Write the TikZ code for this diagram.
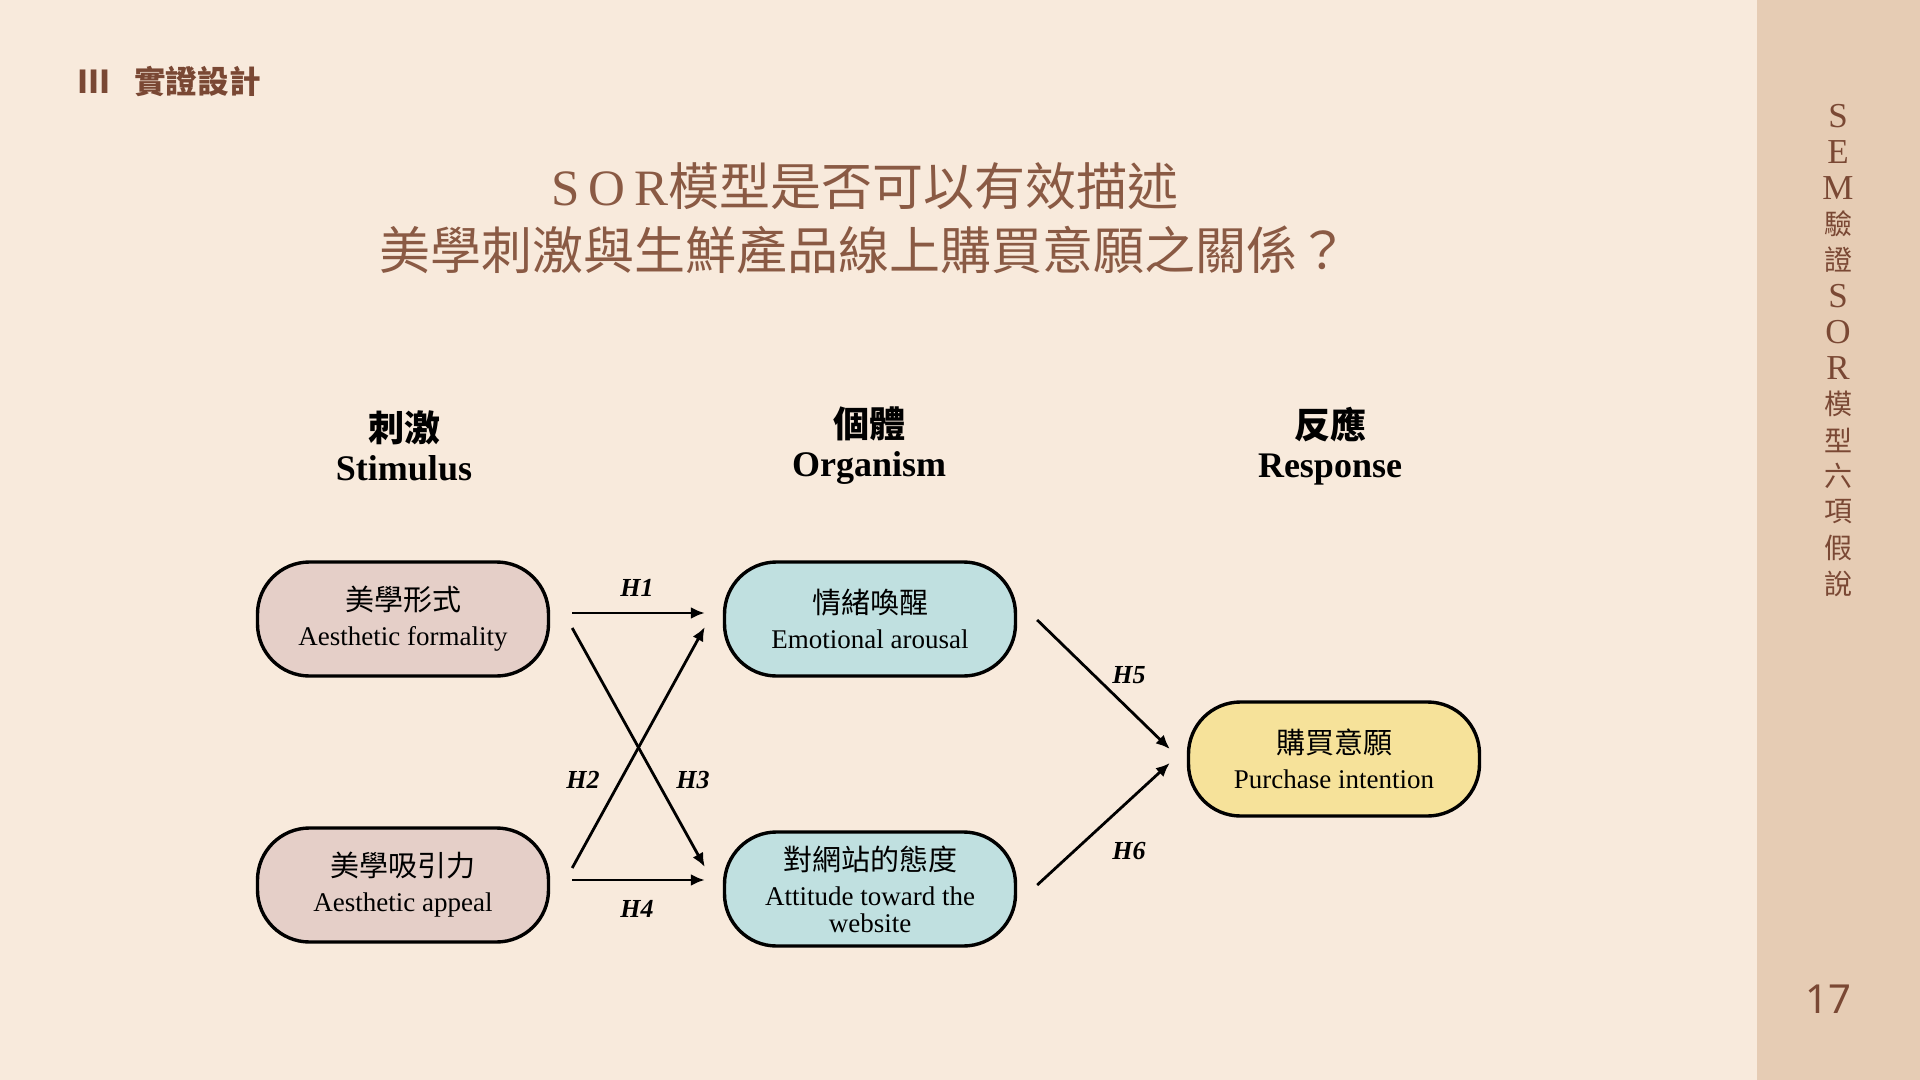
\documentclass[tikz,border=0pt]{standalone}
\usepackage{fontspec}
\setmainfont{Liberation Serif}
\newfontfamily\cjk{Noto Sans CJK TC}
\newfontfamily\numfont{Noto Sans}
\usetikzlibrary{calc, positioning}
\usetikzlibrary{arrows.meta}

\definecolor{bgcream}{RGB}{248,234,220}
\definecolor{sidetan}{RGB}{230,204,180}
\definecolor{brownhead}{RGB}{122,72,52}
\definecolor{browntitle}{RGB}{138,90,68}
\definecolor{pinkbox}{RGB}{229,207,200}
\definecolor{bluebox}{RGB}{192,224,224}
\definecolor{yellowbox}{RGB}{246,226,154}

\tikzset{
  varbox/.style={draw=black, line width=1.7pt, rounded corners=26pt,
    minimum width=145.5pt, minimum height=57pt, inner sep=0pt, align=center,
    font=\fontsize{13.5}{17.5}\selectfont},
  hyp/.style={-{Latex[length=7pt,width=6pt]}, line width=1.4pt},
  hlab/.style={font=\fontsize{13}{13}\selectfont\bfseries\itshape},
  colhead/.style={align=center, font=\fontsize{18}{19.5}\selectfont\bfseries},
  sidech/.style={text=brownhead, inner sep=0pt},
}
\newcommand{\boxcjk}[1]{{\cjk\fontsize{14.5}{17.5}\selectfont #1}}

\begin{document}
\begin{tikzpicture}[x=0.5pt, y=-0.5pt]
% page and side panel
\useasboundingbox (0,0) rectangle (1920,1080);
\fill[bgcream] (0,0) rectangle (1920,1080);
\fill[sidetan] (1757,0) rectangle (1920,1080);

% header and title
\node[anchor=west, text=brownhead] (sec) at (70,81)
  {\cjk\bfseries\fontsize{15.8}{16}\selectfont III\hspace{12pt}實證設計};
\node[text=browntitle] (title1) at (865,186)
  {\fontsize{25.5}{26}\selectfont S\,O\,R{\cjk 模型是否可以有效描述}};
\node[text=browntitle] (title2) at (864,250)
  {\fontsize{25.5}{26}\selectfont\cjk 美學刺激與生鮮產品線上購買意願之關係？};

% column headers
\node[colhead] (colS) at (404,446) {{\cjk 刺激}\\Stimulus};
\node[colhead] (colO) at (869,446) {{\cjk 個體}\\Organism};
\node[colhead] (colR) at (1330,446) {{\cjk 反應}\\Response};

% variables
\node[varbox, fill=pinkbox] (af) at (403,619) {\boxcjk{美學形式}\\Aesthetic formality};
\node[varbox, fill=pinkbox] (aa) at (403,885) {\boxcjk{美學吸引力}\\Aesthetic appeal};
\node[varbox, fill=bluebox] (ea) at (870,619) {\boxcjk{情緒喚醒}\\Emotional arousal};
\node[varbox, fill=bluebox] (at) at (870,889)
  {\boxcjk{對網站的態度}\\Attitude toward the\\[-4pt]website};
\node[varbox, fill=yellowbox] (pi) at (1334,759) {\boxcjk{購買意願}\\Purchase intention};

% hypotheses
\draw[hyp] ($(af.east)+(22,-6)$) -- ($(ea.west)+(-18,-6)$);
\draw[hyp] ($(aa.east)+(22,-17)$) -- ($(ea.west)+(-18,8)$);
\draw[hyp] ($(af.east)+(22,9)$) -- ($(at.west)+(-18,-22)$);
\draw[hyp] ($(aa.east)+(22,-5)$) -- ($(at.west)+(-18,-9)$);
\draw[hyp] ($(ea.east)+(20,1)$) -- ($(pi.west)+(-17,-10)$);
\draw[hyp] ($(at.east)+(20,-4)$) -- ($(pi.west)+(-17,4)$);

\node[hlab] (h1) at (637,588) {H1};
\node[hlab] (h2) at (583,780) {H2};
\node[hlab] (h3) at (693,780) {H3};
\node[hlab] (h4) at (637,909) {H4};
\node[hlab] (h5) at (1129,675) {H5};
\node[hlab] (h6) at (1129,851) {H6};

% vertical side text
\foreach \k/\ch in {0/S,1/E,2/M,5/S,6/O,7/R}
  \node[sidech, font=\fontsize{17.5}{17.5}\selectfont] (side\k) at (1838,116+36*\k) {\ch};
\foreach \k/\ch in {3/驗,4/證,8/模,9/型,10/六,11/項,12/假,13/說}
  \node[sidech, font=\cjk\fontsize{14}{14}\selectfont] (side\k) at (1838,116+36*\k) {\ch};

% page number
\node[text=brownhead] (pgnum) at (1828,999) {\numfont\fontsize{20}{20}\selectfont 17};
\end{tikzpicture}
\end{document}
